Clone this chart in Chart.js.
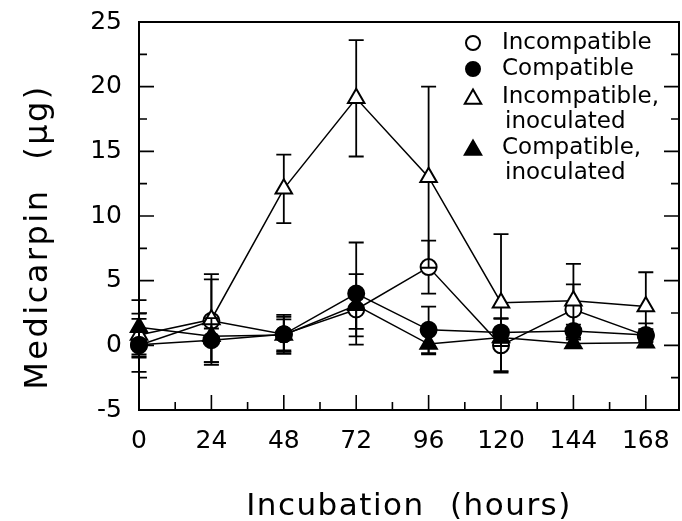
<!DOCTYPE html>
<html><head><meta charset="utf-8">
<script src="https://cdn.jsdelivr.net/npm/chart.js@4"></script>
<style>html,body{margin:0;padding:0;background:#fff;}canvas{display:block;}</style>
</head><body>
<canvas id="c" width="682" height="521"></canvas>
<script>
// ---- data ----
const hours = [0, 24, 48, 72, 96, 120, 144, 168];
const xTickLabels = [0, 24, 48, 72, 96, 120, 144, 168];
const xMinorTicks = [12, 36, 60, 84, 108, 132, 156];
const yTickLabels = [-5, 0, 5, 10, 15, 20, 25];
const yMinorTicks = [-2.5, 2.5, 7.5, 12.5, 17.5, 22.5];
const seriesNames = ['Incompatible', 'Compatible', 'Incompatible,\ninoculated', 'Compatible,\ninoculated'];

const incompatible       = [0.0, 1.9, 0.85, 2.77, 6.05, 0.0, 2.77, 0.75];
const incompatibleErr    = [2.05, 3.2, 1.5, 1.5, 2.05, 2.1, 1.95, 0.5];
const compatible         = [0.05, 0.4, 0.85, 4.0, 1.2, 1.0, 1.1, 0.8];
const compatibleErr      = [1.0, 1.7, 1.35, 3.95, 1.8, 1.05, 0.5, 0.9];
const incompatibleInoc   = [0.8, 2.0, 12.1, 19.1, 13.0, 3.3, 3.45, 3.0];
const incompatibleInocErr= [1.65, 3.5, 2.65, 4.5, 7.0, 5.3, 2.85, 2.65];
const compatibleInoc     = [1.4, 0.7, 0.8, 3.1, 0.1, 0.6, 0.15, 0.2];
const compatibleInocErr  = [2.1, 0.6, 1.2, 2.4, 0.8, 0.4, 0.3, 0.3];

const xTitle = 'Incubation (hours)';
const yTitle = 'Medicarpin (\u03BCg)';

const FONT = '"DejaVu Sans", "Liberation Sans", sans-serif';

function pts(vals){ return hours.map((h,i)=>({x:h, y:vals[i]})); }

function mkDataset(label, vals, errs, style, filled, order){
  const r = style === 'triangle' ? 9.5 : 8;
  return {
    label: label,
    data: pts(vals),
    errorData: errs,
    borderColor: '#000',
    borderWidth: 1.5,
    pointStyle: style,
    pointRadius: r,
    pointBorderWidth: 2,
    pointBorderColor: '#000',
    pointBackgroundColor: filled ? '#000' : '#fff',
    fill: false,
    tension: 0,
    clip: false,
    order: order
  };
}

const frameTicks = {
  id: 'frameTicks',
  beforeDatasetsDraw(chart){
    const {ctx, chartArea:a, scales:{x, y}} = chart;
    ctx.save();
    ctx.strokeStyle = '#000';
    ctx.lineWidth = 2;
    ctx.strokeRect(a.left, a.top, a.right - a.left, a.bottom - a.top);
    ctx.lineWidth = 1.6;
    ctx.beginPath();
    const yt = (v, len) => { const p = y.getPixelForValue(v);
      ctx.moveTo(a.left, p); ctx.lineTo(a.left + len, p);
      ctx.moveTo(a.right, p); ctx.lineTo(a.right - len, p); };
    const xt = (v, len) => { const p = x.getPixelForValue(v);
      ctx.moveTo(p, a.bottom); ctx.lineTo(p, a.bottom - len); };
    yTickLabels.forEach(v => yt(v, 15));
    yMinorTicks.forEach(v => yt(v, 8));
    xTickLabels.forEach(v => xt(v, 15));
    xMinorTicks.forEach(v => xt(v, 8));
    ctx.stroke();
    ctx.restore();
  }
};

const errorBars = {
  id: 'errorBars',
  beforeDatasetDraw(chart, args){
    const ds = chart.data.datasets[args.index];
    const y = chart.scales.y;
    const ctx = chart.ctx;
    ctx.save();
    ctx.strokeStyle = '#000';
    ctx.lineWidth = 1.8;
    args.meta.data.forEach((pt, i) => {
      const v = ds.data[i].y, e = ds.errorData[i];
      const yt = y.getPixelForValue(v + e), yb = y.getPixelForValue(v - e);
      ctx.beginPath();
      ctx.moveTo(pt.x, yt); ctx.lineTo(pt.x, yb);
      ctx.moveTo(pt.x - 7.5, yt); ctx.lineTo(pt.x + 7.5, yt);
      ctx.moveTo(pt.x - 7.5, yb); ctx.lineTo(pt.x + 7.5, yb);
      ctx.stroke();
    });
    ctx.restore();
  }
};

const legendAndTitles = {
  id: 'legendAndTitles',
  afterDraw(chart){
    const {ctx, chartArea:a} = chart;
    ctx.save();
    // legend
    const firstY = [43, 69, 97, 148];
    const markerX = 473, textX = 502, contX = 505, lh = 25;
    ctx.font = '23px ' + FONT;
    ctx.textAlign = 'left';
    ctx.textBaseline = 'middle';
    chart.data.datasets.forEach((ds, i) => {
      const yy = firstY[i];
      ctx.fillStyle = ds.pointBackgroundColor;
      ctx.strokeStyle = '#000';
      ctx.lineWidth = 2;
      const r = ds.pointStyle === 'triangle' ? 9.5 : 7;
      Chart.helpers.drawPoint(ctx, {pointStyle: ds.pointStyle, radius: r, borderWidth: 2, rotation: 0}, markerX, ds.pointStyle === 'triangle' ? yy + 2 : yy);
      ctx.fillStyle = '#000';
      ds.label.split('\n').forEach((line, j) => {
        ctx.fillText(line, j === 0 ? textX : contX, yy + j * lh);
      });
    });
    // axis titles
    ctx.fillStyle = '#000';
    ctx.font = '31px ' + FONT;
    try { ctx.letterSpacing = '1.5px'; ctx.wordSpacing = '14px'; } catch(e) {}
    ctx.textAlign = 'center';
    ctx.textBaseline = 'alphabetic';
    ctx.fillText(xTitle, (a.left + a.right) / 2, 515);
    try { ctx.letterSpacing = '2.5px'; ctx.wordSpacing = '16px'; } catch(e) {}
    ctx.font = '32px ' + FONT;
    ctx.translate(47, 237);
    ctx.rotate(-Math.PI / 2);
    ctx.fillText(yTitle, 0, 0);
    ctx.restore();
  }
};

function zeroPad(s){ s.paddingTop = 0; s.paddingBottom = 0; s.paddingLeft = 0; s.paddingRight = 0; }

new Chart(document.getElementById('c'), {
  type: 'line',
  data: {
    datasets: [
      mkDataset(seriesNames[0], incompatible, incompatibleErr, 'circle', false, 4),
      mkDataset(seriesNames[1], compatible, compatibleErr, 'circle', true, 1),
      mkDataset(seriesNames[2], incompatibleInoc, incompatibleInocErr, 'triangle', false, 3),
      mkDataset(seriesNames[3], compatibleInoc, compatibleInocErr, 'triangle', true, 2)
    ]
  },
  options: {
    responsive: false,
    animation: false,
    devicePixelRatio: 1,
    layout: {autoPadding: false, padding: {top: 22, right: 3, left: 0, bottom: 0}},
    plugins: {legend: {display: false}, tooltip: {enabled: false}},
    scales: {
      x: {
        type: 'linear', min: 0, max: 179,
        grid: {display: false, drawTicks: false},
        border: {display: false},
        afterBuildTicks: s => { s.ticks = xTickLabels.map(v => ({value: v})); },
        afterFit: s => { s.height = 111; zeroPad(s); },
        ticks: {font: {family: FONT, size: 25}, color: '#000', padding: 16, maxRotation: 0, autoSkip: false}
      },
      y: {
        type: 'linear', min: -5, max: 25,
        grid: {display: false, drawTicks: false},
        border: {display: false},
        afterBuildTicks: s => { s.ticks = yTickLabels.map(v => ({value: v})); },
        afterFit: s => { s.width = 139; zeroPad(s); },
        ticks: {font: {family: FONT, size: 25}, color: '#000', padding: 17, autoSkip: false}
      }
    }
  },
  plugins: [frameTicks, errorBars, legendAndTitles]
});
</script>
</body></html>
